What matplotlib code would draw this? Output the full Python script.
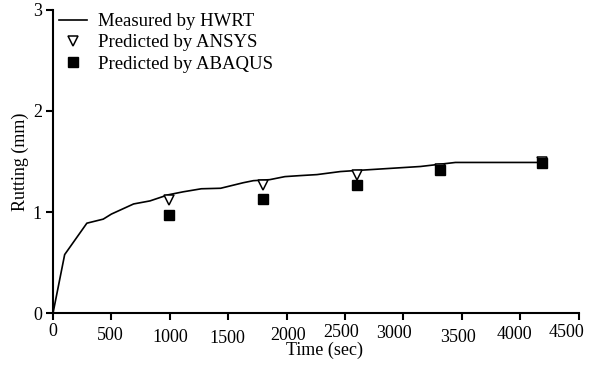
import numpy as np
import matplotlib
matplotlib.use('Agg')
import matplotlib.pyplot as plt
import matplotlib.transforms as mtransforms

plt.rcParams['font.family'] = ['Liberation Serif', 'DejaVu Serif']

# measured rutting curve (HWRT)
hwrt_time = [0, 100, 290, 430, 500, 690, 830, 985, 1115, 1270, 1435, 1630, 1715,
             1855, 1985, 2115, 2260, 2460, 2590, 3145, 3445, 4175]
hwrt_rut = [0.0, 0.58, 0.89, 0.93, 0.98, 1.08, 1.11, 1.17, 1.20, 1.23, 1.235, 1.29, 1.31,
            1.32, 1.35, 1.36, 1.37, 1.40, 1.41, 1.45, 1.49, 1.49]

# model predictions
pred_time = [990, 1800, 2600, 3310, 4190]
ansys_rut = [1.12, 1.27, 1.37, 1.43, 1.49]
abaqus_rut = [0.97, 1.13, 1.27, 1.42, 1.48]

xticks = [0, 500, 1000, 1500, 2000, 2500, 3000, 3500, 4000, 4500]
# offsets (points) of each x tick label: sideways and downward
xtick_dx = [0, -0.7, 0, -0.7, 0.7, -2.9, -6.5, -2.9, -4.3, -8.6]
xtick_dy = [0, 2.8, 4.4, 5.1, 3.2, 0.65, 1.7, 4.4, 1.9, 1.0]

fig = plt.figure(figsize=(5.94, 3.69), dpi=100)
ax = fig.add_axes([0.0892, 0.151, 0.885, 0.823])

ax.plot(hwrt_time, hwrt_rut, color='black', lw=1.2, label='Measured by HWRT')
ax.plot(pred_time, ansys_rut, ls='none', marker='v', ms=6.5, mfc='white',
        mec='black', mew=1.1, label='Predicted by ANSYS')
ax.plot(pred_time, abaqus_rut, ls='none', marker='s', ms=7, mfc='black',
        mec='black', label='Predicted by ABAQUS')

ax.set_xlim(0, 4500)
ax.set_ylim(0, 3)
ax.set_xticks(xticks)
ax.set_yticks([0, 1, 2, 3])
ax.spines['top'].set_visible(False)
ax.spines['right'].set_visible(False)
for s in ['left', 'bottom']:
    ax.spines[s].set_linewidth(1.5)
ax.tick_params(direction='out', length=5, width=1.5, labelsize=13)
ax.tick_params(axis='x', pad=2)
ax.tick_params(axis='y', pad=3)

for lab, dx, dy in zip(ax.get_xticklabels(), xtick_dx, xtick_dy):
    off = mtransforms.ScaledTranslation(dx / 72, -dy / 72, fig.dpi_scale_trans)
    lab.set_transform(lab.get_transform() + off)

ax.set_xlabel('Time (sec)', fontsize=13, labelpad=-4, x=0.517)
ax.set_ylabel('Rutting (mm)', fontsize=13, labelpad=3)

leg = ax.legend(loc='upper left', bbox_to_anchor=(-0.0095, 1.025), frameon=False,
                fontsize=13.5, handlelength=1.5, handletextpad=0.59,
                labelspacing=0.21, borderaxespad=0.2)

fig.savefig('out.png', dpi=100)
